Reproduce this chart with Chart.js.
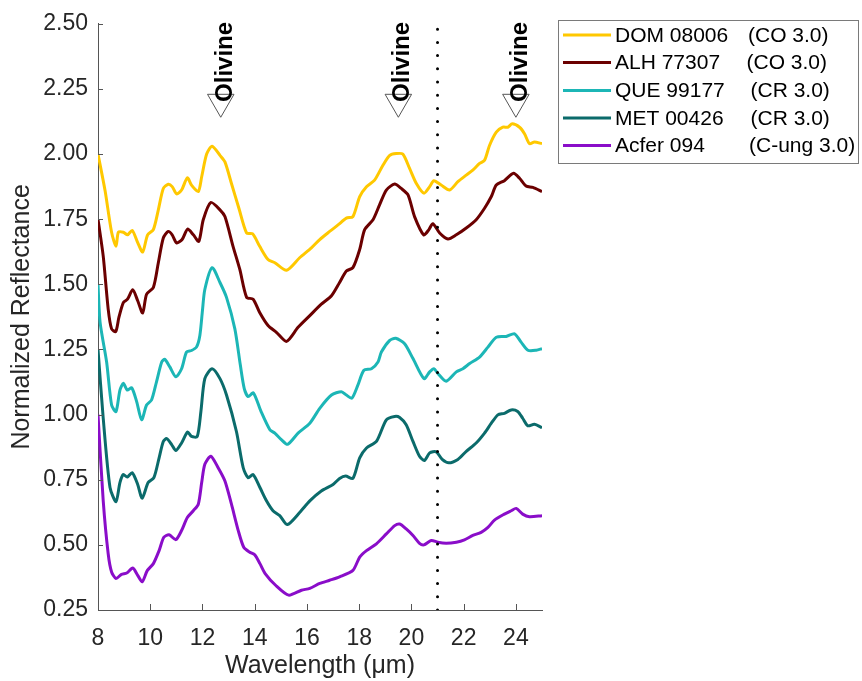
<!DOCTYPE html>
<html><head><meta charset="utf-8">
<script src="https://cdn.jsdelivr.net/npm/chart.js@4/dist/chart.umd.min.js"></script>
<style>html,body{margin:0;padding:0;background:#fff;}</style>
</head><body>
<canvas id="c" width="862" height="681" style="display:block"></canvas>
<script>
// ---- data ----
const seriesNames = ["DOM 08006", "ALH 77307", "QUE 99177", "MET 00426", "Acfer 094"];
const seriesClasses = ["(CO 3.0)", "(CO 3.0)", "(CR 3.0)", "(CR 3.0)", "(C-ung 3.0)"];
const seriesColors = ["#FFC800", "#6B0000", "#1CB6B6", "#0B6B6B", "#8A0DC9"];

const domX = [8.00,8.27,8.52,8.69,8.78,8.97,9.13,9.31,9.52,9.71,9.90,10.12,10.31,10.50,10.69,10.84,11.01,11.20,11.42,11.58,11.84,11.97,12.16,12.37,12.67,12.86,13.11,13.40,13.69,13.92,14.19,14.51,14.77,15.22,15.72,16.17,16.49,16.87,17.19,17.51,17.76,18.02,18.28,18.59,18.91,19.17,19.42,19.67,19.93,20.19,20.48,20.70,20.86,21.14,21.46,21.78,22.10,22.35,22.61,22.80,22.99,23.25,23.50,23.69,23.86,24.14,24.33,24.52,24.71,25.00];
const domY = [2.00,1.86,1.70,1.646,1.70,1.70,1.69,1.707,1.66,1.624,1.69,1.71,1.786,1.868,1.884,1.875,1.847,1.862,1.909,1.881,1.856,1.913,2.00,2.03,1.995,1.97,1.887,1.79,1.697,1.694,1.646,1.595,1.583,1.554,1.602,1.64,1.672,1.703,1.728,1.754,1.76,1.837,1.875,1.90,1.957,1.995,2.002,2.00,1.945,1.887,1.85,1.875,1.898,1.881,1.862,1.894,1.919,1.938,1.964,1.976,2.033,2.084,2.103,2.103,2.116,2.103,2.078,2.04,2.046,2.04];

const alhX = [8.00,8.20,8.39,8.52,8.68,8.80,8.97,9.13,9.33,9.52,9.71,9.86,10.12,10.31,10.50,10.69,10.84,11.01,11.22,11.43,11.65,11.86,12.03,12.32,12.67,12.86,13.17,13.43,13.69,13.94,14.19,14.51,14.83,15.22,15.66,16.11,16.55,16.94,17.25,17.51,17.76,18.02,18.21,18.53,18.78,19.04,19.36,19.61,19.87,20.12,20.47,20.67,20.82,21.08,21.40,21.72,22.10,22.48,22.80,23.06,23.25,23.56,23.91,24.14,24.39,24.65,25.00];
const alhY = [1.75,1.608,1.405,1.329,1.319,1.373,1.43,1.443,1.479,1.437,1.39,1.462,1.488,1.583,1.678,1.703,1.69,1.659,1.672,1.712,1.69,1.665,1.748,1.814,1.786,1.76,1.646,1.557,1.45,1.443,1.392,1.342,1.316,1.281,1.335,1.38,1.424,1.456,1.507,1.551,1.564,1.634,1.71,1.748,1.805,1.862,1.885,1.868,1.843,1.76,1.69,1.71,1.733,1.697,1.674,1.69,1.716,1.748,1.792,1.837,1.881,1.898,1.926,1.907,1.877,1.872,1.856];

const queX = [8.00,8.08,8.33,8.52,8.69,8.84,8.97,9.12,9.29,9.48,9.67,9.86,10.05,10.24,10.44,10.56,10.75,10.98,11.20,11.39,11.58,11.77,11.90,12.00,12.09,12.37,12.67,12.92,13.24,13.45,13.60,13.75,13.95,14.23,14.58,14.77,15.02,15.26,15.66,16.11,16.49,16.94,17.32,17.51,17.72,17.95,18.18,18.47,18.72,18.85,19.17,19.40,19.74,20.06,20.48,20.70,20.86,21.02,21.33,21.72,21.97,22.23,22.61,22.93,23.25,23.63,23.95,24.20,24.46,24.78,25.00];
const queY = [1.50,1.354,1.202,1.037,1.012,1.094,1.12,1.094,1.103,1.05,0.98,1.037,1.056,1.126,1.202,1.212,1.183,1.145,1.176,1.24,1.246,1.259,1.304,1.40,1.48,1.564,1.507,1.45,1.329,1.19,1.10,1.069,1.083,1.015,0.942,0.929,0.904,0.886,0.929,0.967,1.024,1.075,1.088,1.075,1.063,1.113,1.17,1.176,1.202,1.24,1.285,1.293,1.272,1.215,1.138,1.164,1.176,1.157,1.128,1.164,1.176,1.196,1.221,1.259,1.297,1.30,1.31,1.278,1.247,1.247,1.253];

const metX = [8.00,8.20,8.46,8.69,8.84,8.97,9.12,9.31,9.52,9.69,9.92,10.14,10.34,10.50,10.63,10.82,10.98,11.20,11.43,11.58,11.80,11.94,12.09,12.37,12.67,12.92,13.30,13.56,13.75,13.94,14.20,14.45,14.70,14.96,15.25,15.72,16.11,16.55,17.00,17.25,17.48,17.76,18.02,18.28,18.66,19.04,19.36,19.55,19.80,20.06,20.31,20.50,20.70,20.95,21.18,21.43,21.78,22.10,22.48,22.80,23.06,23.31,23.56,23.82,24.07,24.26,24.46,24.71,25.00];
const metY = [1.25,0.986,0.72,0.666,0.739,0.77,0.76,0.777,0.732,0.679,0.739,0.758,0.834,0.897,0.908,0.885,0.862,0.891,0.933,0.916,0.916,1.012,1.138,1.176,1.138,1.075,0.935,0.796,0.758,0.77,0.72,0.669,0.631,0.612,0.578,0.624,0.669,0.707,0.732,0.755,0.764,0.755,0.834,0.872,0.897,0.98,0.993,0.989,0.961,0.897,0.84,0.824,0.853,0.857,0.828,0.815,0.828,0.859,0.891,0.929,0.967,0.999,1.005,1.018,1.012,0.986,0.957,0.963,0.95];

const acfX = [8.00,8.20,8.39,8.52,8.69,8.90,9.10,9.33,9.52,9.69,9.89,10.12,10.34,10.52,10.72,10.98,11.20,11.42,11.65,11.84,11.97,12.09,12.32,12.60,12.86,13.11,13.37,13.58,13.81,14.00,14.20,14.40,14.80,15.30,15.79,16.11,16.49,16.87,17.25,17.76,18.02,18.28,18.66,19.04,19.36,19.55,19.80,20.06,20.31,20.48,20.76,21.01,21.33,21.72,22.03,22.35,22.67,22.93,23.18,23.56,23.82,24.01,24.26,24.52,25.00];
const acfY = [1.00,0.669,0.466,0.396,0.371,0.387,0.392,0.411,0.383,0.358,0.402,0.428,0.478,0.529,0.539,0.52,0.555,0.605,0.631,0.656,0.739,0.809,0.84,0.796,0.745,0.656,0.555,0.491,0.472,0.462,0.428,0.39,0.345,0.307,0.326,0.333,0.352,0.364,0.377,0.402,0.453,0.478,0.504,0.542,0.574,0.58,0.561,0.536,0.506,0.50,0.517,0.51,0.506,0.51,0.519,0.536,0.548,0.567,0.595,0.618,0.631,0.64,0.618,0.608,0.612];

const xTickValues = [8, 10, 12, 14, 16, 18, 20, 22, 24];
const yTickValues = [0.25, 0.50, 0.75, 1.00, 1.25, 1.50, 1.75, 2.00, 2.25, 2.50];
const olivineX = [12.7, 19.5, 24.0];
const olivineMarkY = 2.20;
const olivineLabel = "Olivine";
const dottedLineX = 21;
const xTitle = "Wavelength (\u03bcm)";
const yTitle = "Normalized Reflectance";

// ---- build ----
const xs = [domX, alhX, queX, metX, acfX];
const ys = [domY, alhY, queY, metY, acfY];
const FONT = '"Liberation Sans", Arial, Helvetica, sans-serif';
const AXIS_COLOR = '#555555';

const datasets = seriesNames.map((n, i) => ({
  label: n,
  data: xs[i].map((x, k) => ({x: x, y: ys[i][k]})),
  borderColor: seriesColors[i],
  backgroundColor: seriesColors[i],
  borderWidth: 3,
  pointRadius: 0,
  tension: 0.25,
  fill: false,
  order: 2
}));
datasets.push({
  label: 'dotted',
  data: [{x: dottedLineX, y: yTickValues[0]}, {x: dottedLineX, y: yTickValues[yTickValues.length-1]}],
  borderColor: '#000',
  borderWidth: 3,
  borderDash: [0, 13.2],
  borderCapStyle: 'round',
  pointRadius: 0,
  tension: 0,
  order: 1
});
datasets.push({
  label: 'olivine',
  data: olivineX.map(x => ({x: x, y: olivineMarkY})),
  showLine: false,
  pointStyle: 'triangle',
  rotation: 180,
  pointRadius: 15.3,
  pointBorderWidth: 1,
  pointBorderColor: '#555',
  pointBackgroundColor: 'rgba(255,255,255,0)',
  borderColor: '#555',
  backgroundColor: 'rgba(255,255,255,0)',
  order: 0
});

const extras = {
  id: 'extras',
  afterDatasetsDraw(chart) {
    const {ctx, scales: {x, y}} = chart;
    ctx.save();
    ctx.font = 'bold 24px ' + FONT;
    ctx.fillStyle = '#000';
    ctx.textAlign = 'left';
    ctx.textBaseline = 'alphabetic';
    olivineX.forEach(v => {
      const px = x.getPixelForValue(v), py = y.getPixelForValue(olivineMarkY);
      ctx.save();
      ctx.translate(px + 11, py);
      ctx.rotate(-Math.PI / 2);
      ctx.fillText(olivineLabel, 0, 0);
      ctx.restore();
    });
    ctx.restore();
  },
  afterDraw(chart) {
    const {ctx, chartArea: a, scales: {x, y}} = chart;
    ctx.save();
    ctx.strokeStyle = AXIS_COLOR;
    ctx.lineWidth = 1;
    x.ticks.forEach(t => {
      const px = Math.round(x.getPixelForValue(t.value)) + 0.5;
      ctx.beginPath(); ctx.moveTo(px, a.bottom); ctx.lineTo(px, a.bottom - 6); ctx.stroke();
    });
    y.ticks.forEach(t => {
      const py = Math.round(y.getPixelForValue(t.value)) + 0.5;
      ctx.beginPath(); ctx.moveTo(a.left, py); ctx.lineTo(a.left + 5, py); ctx.stroke();
    });
    // legend
    const L = 558.5, T = 20.5, R = 858.5, B = 163.5;
    ctx.fillStyle = '#fff';
    ctx.fillRect(L, T, R - L, B - T);
    ctx.strokeStyle = '#7a7a7a';
    ctx.lineWidth = 1;
    ctx.strokeRect(L, T, R - L, B - T);
    const rowY = [35, 62.5, 90.5, 118, 145.5];
    const classX = [748, 746.5, 750.5, 750.5, 749];
    ctx.font = '21px ' + FONT;
    ctx.textBaseline = 'middle';
    ctx.textAlign = 'left';
    seriesNames.forEach((n, i) => {
      ctx.strokeStyle = seriesColors[i];
      ctx.lineWidth = 3;
      ctx.beginPath(); ctx.moveTo(563, rowY[i]); ctx.lineTo(611, rowY[i]); ctx.stroke();
      ctx.fillStyle = '#000';
      ctx.fillText(n, 615, rowY[i] + 1);
      ctx.fillText(seriesClasses[i], classX[i], rowY[i] + 1);
    });
    ctx.restore();
  }
};

new Chart(document.getElementById('c'), {
  type: 'line',
  data: {datasets},
  plugins: [extras],
  options: {
    responsive: false,
    animation: false,
    devicePixelRatio: 1,
    layout: {padding: {left: 0, top: 19, right: 320, bottom: 0}},
    plugins: {legend: {display: false}, tooltip: {enabled: false}},
    scales: {
      x: {
        type: 'linear', min: 8, max: 25,
        afterBuildTicks: s => { s.ticks = xTickValues.map(v => ({value: v})); },
        afterFit: s => { s.height = 71; },
        grid: {display: false, drawTicks: false},
        border: {display: true, color: AXIS_COLOR, width: 1},
        ticks: {padding: 15, color: '#262626', font: {family: FONT, size: 23}, callback: v => String(v), maxRotation: 0},
        title: {display: true, text: xTitle, color: '#262626', font: {family: FONT, size: 25, lineHeight: 1}, padding: {top: 0, bottom: 2}}
      },
      y: {
        type: 'linear', min: 0.25, max: 2.5,
        afterBuildTicks: s => { s.ticks = yTickValues.map(v => ({value: v})); },
        afterFit: s => { s.width = 98; },
        grid: {display: false, drawTicks: false},
        border: {display: true, color: AXIS_COLOR, width: 1},
        ticks: {padding: 10, color: '#262626', font: {family: FONT, size: 23}, callback: v => Number(v).toFixed(2)},
        title: {display: true, text: yTitle, color: '#262626', font: {family: FONT, size: 25, lineHeight: 1}, padding: {top: 10, bottom: 0}}
      }
    }
  }
});
</script>
</body></html>
